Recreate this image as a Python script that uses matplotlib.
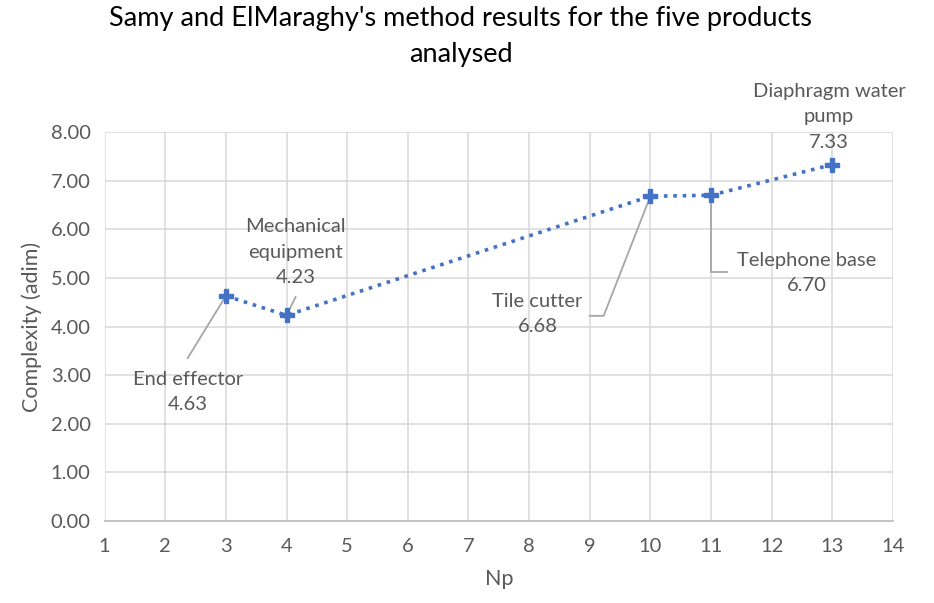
import matplotlib.pyplot as plt

# values
products = ["End effector", "Mechanical\nequipment", "Tile cutter",
            "Telephone base", "Diaphragm water\npump"]
n_parts = [3, 4, 10, 11, 13]
complexity = [4.63, 4.23, 6.68, 6.70, 7.33]

C_LINE = "#4472C4"
C_TEXT = "#595959"
C_GRID = "#D9D9D9"
C_LEAD = "#A6A6A6"

plt.rcParams.update({
    "font.family": ["Lato", "DejaVu Sans"],
    "font.size": 14.5,
    "text.color": C_TEXT,
    "axes.labelcolor": C_TEXT,
    "xtick.color": C_TEXT,
    "ytick.color": C_TEXT,
})

fig = plt.figure(figsize=(9.34, 6.03), dpi=100)
ax = fig.add_axes([0.112, 0.136, 0.844, 0.645])

ax.plot(n_parts, complexity, ls=(0, (1, 1.6)), lw=2.6, color=C_LINE,
        marker="P", ms=10, mfc=C_LINE, mec=C_LINE, zorder=4)

ax.set_xlim(1, 14)
ax.set_ylim(0, 8)
ax.set_xticks(range(1, 15))
ax.set_yticks(range(0, 9))
ax.set_yticklabels([f"{v:.2f}" for v in range(0, 9)])
ax.tick_params(length=0, labelsize=14.5)
ax.tick_params(axis="x", pad=12)
ax.tick_params(axis="y", pad=10)
ax.grid(True, color=C_GRID, lw=1.1, zorder=0)
for s in ["top", "right", "left"]:
    ax.spines[s].set_visible(False)
ax.spines["bottom"].set_color("#BFBFBF")
ax.spines["bottom"].set_linewidth(1.3)

ax.set_xlabel("Np", fontsize=15.5, labelpad=10)
ax.set_ylabel("Complexity (adim)", fontsize=15.5, labelpad=6)
fig.suptitle("Samy and ElMaraghy's method results for the five products\nanalysed",
             x=0.493, y=0.99, fontsize=19.5, color="black", linespacing=1.55)

# label centres (data units) and leader line bends
label_pos = [(2.37, 2.65), (4.15, 5.53), (8.14, 4.26), (12.58, 5.1), (12.95, 8.31)]
leaders = [
    [(2.37, 3.35)],
    [(4.15, 4.61)],
    [(9.0, 4.22), (9.23, 4.22)],
    [(11.26, 5.12), (11.0, 5.12)],
    None,
]
for name, x, y, (tx, ty), path in zip(products, n_parts, complexity,
                                       label_pos, leaders):
    ax.text(tx, ty, f"{name}\n{y:.2f}", ha="center", va="center",
            fontsize=14.5, color=C_TEXT, linespacing=1.6, zorder=5)
    if path:
        xs = [p[0] for p in path] + [x]
        ys = [p[1] for p in path] + [y]
        ax.plot(xs, ys, color=C_LEAD, lw=1.3, zorder=3, clip_on=False)

fig.savefig("out.png", dpi=100, facecolor="white")
